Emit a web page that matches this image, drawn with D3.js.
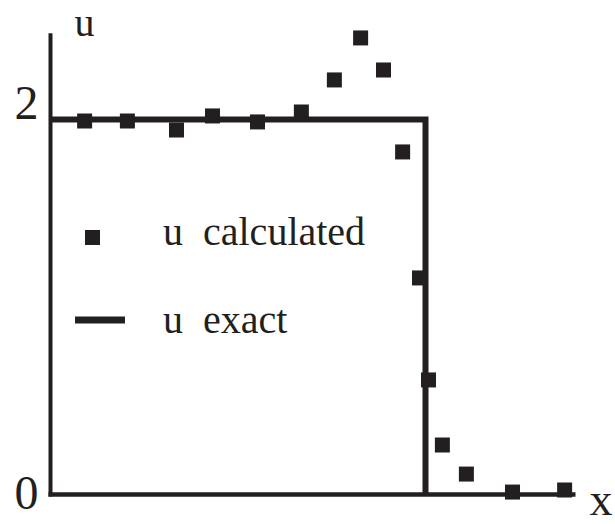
<!DOCTYPE html>
<html>
<head>
<meta charset="utf-8">
<script src="https://cdn.jsdelivr.net/npm/d3@7/dist/d3.min.js"></script>
<style>
  html, body { margin: 0; padding: 0; background: #fff; }
  svg { display: block; }
</style>
</head>
<body>
<svg id="chart" width="615" height="524"></svg>
<script>
// Numerical solution of the step problem vs. the exact solution
const xCalc = [0.091, 0.205, 0.336, 0.432, 0.552, 0.669, 0.757, 0.827, 0.888,
               0.939, 0.984, 1.008, 1.045, 1.109, 1.232, 1.371];
const uCalc = [1.992, 1.992, 1.944, 2.019, 1.987, 2.040, 2.211, 2.435, 2.264,
               1.827, 1.155, 0.611, 0.264, 0.109, 0.013, 0.024];

// Exact solution: u = 2 for x < 1, u = 0 beyond the jump
const xExact = [0, 1, 1];
const uExact = [2, 2, 0];

const yTicks = [0, 2];
const yTickLabels = ["0", "2"];
const legendLabels = ["calculated", "exact"];

const ink = "#231f20";
const serif = "Liberation Serif";
const svg = d3.select("#chart");

const x = d3.scaleLinear().domain([0, 1.4]).range([50.5, 575.5]);
const y = d3.scaleLinear().domain([0, 2]).range([494.5, 119.5]);

// Axes lines
svg.append("line")
  .attr("x1", x(0)).attr("x2", x(0))
  .attr("y1", y(0) + 2).attr("y2", y(2.46))
  .attr("stroke", ink).attr("stroke-width", 4);
svg.append("line")
  .attr("x1", x(0) - 2).attr("x2", x(1.4))
  .attr("y1", y(0)).attr("y2", y(0))
  .attr("stroke", ink).attr("stroke-width", 4.5);

// Y tick labels
const yAxis = svg.append("g")
  .attr("transform", `translate(${x(0)},0)`)
  .call(d3.axisLeft(y).tickValues(yTicks).tickSize(0).tickPadding(12)
    .tickFormat((d, i) => yTickLabels[i]));
yAxis.attr("font-family", serif).attr("font-size", 48);
yAxis.select(".domain").remove();
yAxis.selectAll("text")
  .attr("fill", ink)
  .attr("dy", d => d === 2 ? -1.5 : 13.5);

// Axis titles
svg.append("text").attr("x", x(0) + 24).attr("y", 36)
  .attr("font-family", serif).attr("font-size", 40)
  .attr("fill", ink).text("u");
svg.append("text").attr("x", x(1.4) + 14).attr("y", 515)
  .attr("font-family", serif).attr("font-size", 46)
  .attr("fill", ink).text("x");

// Exact solution line
const exactData = xExact.map((d, i) => [d, uExact[i]]);
svg.append("path")
  .datum(exactData)
  .attr("d", d3.line().x(d => x(d[0])).y(d => y(d[1])))
  .attr("fill", "none")
  .attr("stroke", ink)
  .attr("stroke-width", 6)
  .attr("stroke-linejoin", "miter");

// Calculated points
const m = 15;
svg.append("g").selectAll("rect")
  .data(xCalc.map((d, i) => [d, uCalc[i]]))
  .join("rect")
  .attr("x", d => x(d[0]) - m / 2)
  .attr("y", d => y(d[1]) - m / 2)
  .attr("width", m).attr("height", m)
  .attr("fill", ink);

// Legend
const legend = svg.append("g");
legend.append("rect")
  .attr("x", 85).attr("y", 230).attr("width", 15).attr("height", 15)
  .attr("fill", ink);
legend.append("line")
  .attr("x1", 75).attr("x2", 125).attr("y1", 320).attr("y2", 320)
  .attr("stroke", ink).attr("stroke-width", 7);
const rows = [245, 333];
legendLabels.forEach((lab, i) => {
  legend.append("text").attr("x", 163).attr("y", rows[i])
    .attr("font-family", serif).attr("font-size", 40)
    .attr("fill", ink).text("u");
  legend.append("text").attr("x", 203).attr("y", rows[i])
    .attr("font-family", serif).attr("font-size", 40)
    .attr("fill", ink).text(lab);
});
</script>
</body>
</html>
